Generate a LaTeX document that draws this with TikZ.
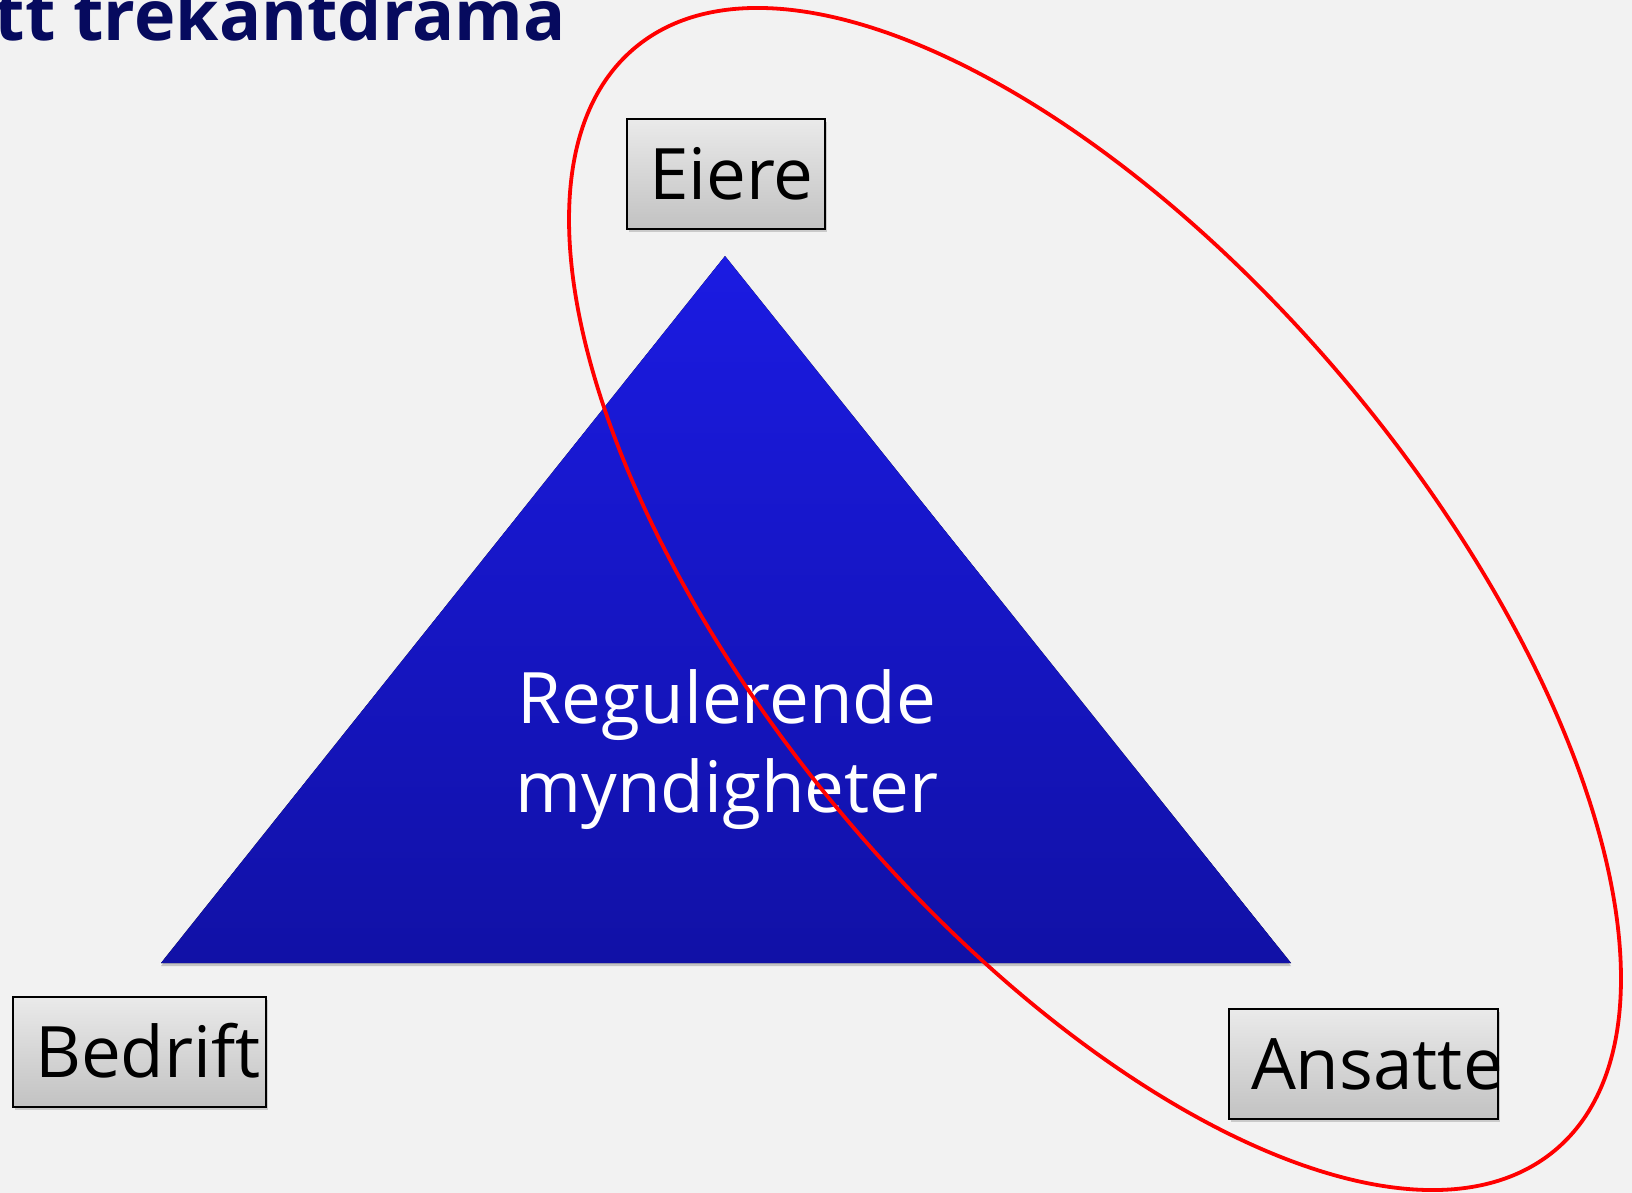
\documentclass[tikz,border=0pt]{standalone}
\usepackage{fontspec}
\setmainfont{Open Sans}
\usetikzlibrary{shadows}
\definecolor{pagebg}{RGB}{242,242,242}
\definecolor{titleblue}{RGB}{6,10,94}
\definecolor{tritop}{RGB}{27,27,226}
\definecolor{tribot}{RGB}{17,17,166}
\definecolor{boxtop}{RGB}{234,234,234}
\definecolor{boxbot}{RGB}{194,194,194}

\begin{document}
\begin{tikzpicture}[
  x=1pt, y=-1pt,
  party/.style={draw=black, line width=1.5pt, top color=boxtop, bottom color=boxbot,
    drop shadow={shadow xshift=2pt, shadow yshift=-3pt, opacity=0.35},
    font=\fontsize{71}{85}\selectfont, text height=51pt, text depth=0pt,
    inner xsep=22pt, inner ysep=0pt, minimum height=110pt, align=left,
    execute at begin node={\hyphenpenalty=10000}},
  ring/.style={draw=red, line width=3.8pt}
]
\useasboundingbox[fill=pagebg] (0,0) rectangle (1632,1193);

\node[anchor=base east, inner sep=0pt, text=titleblue, font=\fontsize{70}{74}\selectfont\bfseries] (title) at (566,41) {tt trekantdrama};

\coordinate (apex) at (725,256);
\coordinate (baseleft) at (161,963);
\coordinate (baseright) at (1291,963);
\fill[top color=tritop, bottom color=tribot, drop shadow={shadow xshift=0pt, shadow yshift=-3pt, opacity=0.4}] (apex) -- (baseright) -- (baseleft) -- cycle;
\node[text=white, align=center, font=\fontsize{71}{89}\selectfont] (authority) at (727,750) {Regulerende\\myndigheter};

\node[party, text width=154pt] (owners) at (726,174) {Eiere};
\node[party, text width=209pt] (company) at (139.5,1052) {Bedrift};
\node[party, text width=225pt] (staff) at (1363.5,1064) {Ansatte};

\draw[ring, rotate around={-50.16:(1095,599)}] (1095,599) ellipse [x radius=718, y radius=332];
\end{tikzpicture}
\end{document}
